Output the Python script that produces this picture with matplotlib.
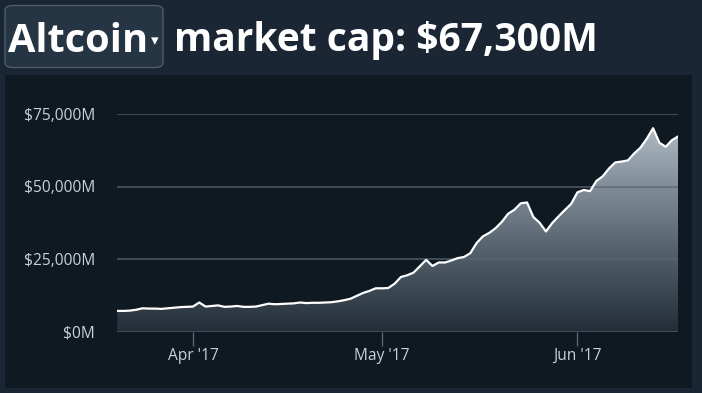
import numpy as np
import pandas as pd
import matplotlib as mpl
mpl.use("Agg")
import matplotlib.pyplot as plt
import matplotlib.dates as mdates
import matplotlib.ticker as ticker
from matplotlib.patches import FancyBboxPatch, Rectangle
from matplotlib.colors import LinearSegmentedColormap

# ---------------- data (altcoin market cap, $M) ----------------
start_date = "2017-03-20"
cap_billions = [
    7.1, 7.1, 7.2, 7.5, 8.0, 7.9, 7.9, 7.8, 8.0, 8.2,
    8.4, 8.5, 8.6, 10.0, 8.6, 8.8, 9.0, 8.5, 8.6, 8.8,
    8.5, 8.5, 8.6, 9.1, 9.6, 9.4, 9.5, 9.6, 9.7, 10.0,
    9.8, 9.9, 9.9, 10.0, 10.1, 10.4, 10.8, 11.3, 12.3, 13.3,
    14.0, 14.9, 14.9, 15.0, 16.5, 18.8, 19.4, 20.3, 22.5, 24.7,
    22.6, 23.8, 23.8, 24.5, 25.3, 25.7, 27.0, 30.5, 32.8, 34.0,
    35.6, 37.8, 40.6, 42.0, 44.2, 44.5, 39.5, 37.5, 34.5, 37.4,
    39.7, 41.9, 44.0, 48.0, 48.8, 48.4, 51.9, 53.5, 56.2, 58.3,
    58.6, 59.0, 61.4, 63.4, 66.5, 70.1, 65.1, 63.7, 66.0, 67.3,
]
dates = pd.date_range(start_date, periods=len(cap_billions), freq="D")
cap = np.array(cap_billions) * 1000.0
y_ticks = [0, 25000, 50000, 75000]
coin_name = "Altcoin"
headline = "market cap: $67,300M"

# ---------------- style ----------------
W, H = 702, 393
bg_header = "#1a2634"
bg_panel = "#0f1922"
grid_col = "#59656f"
tick_col = "#c9d1d8"

fig = plt.figure(figsize=(W / 100, H / 100), dpi=100)
fig.patch.set_facecolor("#1b2733")

# panel behind the chart
fig.patches.append(Rectangle((0, 0), 1, 1, transform=fig.transFigure,
                             facecolor=bg_header, edgecolor="none", zorder=-3))
fig.patches.append(Rectangle((4.5 / W, 1 - 388 / H), (692 - 4.5) / W, (388 - 75) / H,
                             transform=fig.transFigure, facecolor=bg_panel,
                             edgecolor="none", zorder=-2))

# dropdown box
fig.patches.append(FancyBboxPatch((5 / W, 1 - 67.5 / H), 158 / W, 62 / H,
                                  boxstyle="round,pad=0,rounding_size=0.012",
                                  transform=fig.transFigure, facecolor="#263544",
                                  edgecolor="#4d5d6b", linewidth=1.0, zorder=-1))
fig.text(8 / W, 1 - 51.5 / H, coin_name, fontsize=28.6, fontweight="bold",
         family=["Open Sans", "DejaVu Sans"], color="white", va="baseline", ha="left")
fig.text(154.5 / W, 1 - 41 / H, "\u25BE", fontsize=11, color="white",
         family="DejaVu Sans", ha="center", va="center")
fig.text(174.5 / W, 1 - 51.5 / H, headline, fontsize=28.1, fontweight="bold",
         family=["Open Sans", "DejaVu Sans"], color="white", va="baseline", ha="left")

# axes
left, right = 117.3 / W, 678.3 / W
bottom, top = 1 - 331.5 / H, 1 - 114 / H
ax = fig.add_axes([left, bottom, right - left, top - bottom])
ax.set_facecolor("none")
for s in ax.spines.values():
    s.set_visible(False)

x = mdates.date2num(dates)
ax.set_xlim(x[0], x[-1])
ax.set_ylim(0, 75000)

# gradient fill under the line
cmap = LinearSegmentedColormap.from_list(
    "fade", ["#222d37", "#4f5c67", "#808d98", "#b8c4cd"])
grad = np.linspace(0, 1, 256).reshape(-1, 1)
img = ax.imshow(grad, cmap=cmap, aspect="auto", origin="lower",
                extent=[x[0], x[-1], 0, 75000], zorder=1)
poly = ax.fill_between(x, 0, cap, color="none", zorder=1)
img.set_clip_path(poly.get_paths()[0], transform=ax.transData)

for yv in y_ticks:
    ax.axhline(yv, color=grid_col, lw=1.1, alpha=0.85, zorder=2)

ax.plot(x, cap, color="white", lw=1.6, zorder=3, solid_joinstyle="round")

ax.yaxis.set_major_locator(ticker.FixedLocator(y_ticks))
ax.yaxis.set_major_formatter(ticker.FuncFormatter(lambda v, p: "${:,.0f}M".format(v)))
ax.xaxis.set_major_locator(mdates.MonthLocator())
ax.xaxis.set_major_formatter(mdates.DateFormatter("%b '%y"))

ax.tick_params(axis="y", length=0, pad=16, labelsize=11.2, labelcolor=tick_col)
ax.tick_params(axis="x", length=10, width=1, color=grid_col, pad=2,
               labelsize=11.2, labelcolor=tick_col)
for lab in ax.get_xticklabels() + ax.get_yticklabels():
    lab.set_family(["Open Sans", "DejaVu Sans"])

fig.savefig("out.png", dpi=100, facecolor=fig.get_facecolor())
